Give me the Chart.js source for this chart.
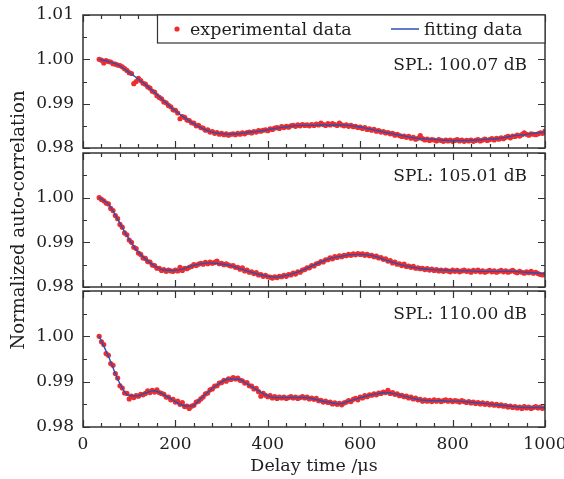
<!DOCTYPE html>
<html>
<head>
<meta charset="utf-8">
<script src="https://cdn.jsdelivr.net/npm/chart.js@4.4.1/dist/chart.umd.min.js"></script>
<style>
  body { margin: 0; background: #fff; }
  #wrap { position: relative; width: 564px; height: 479px; }
  #wrap canvas { position: absolute; left: 0; top: 0; }
</style>
</head>
<body>
<div id="wrap">
  <canvas id="panel1" width="564" height="479"></canvas>
  <canvas id="panel2" width="564" height="479"></canvas>
  <canvas id="panel3" width="564" height="479"></canvas>
</div>
<script>
// Delay time grid of the measured points (µs)
const delayStart = 35;
const delayStep = 5;

const xLabelTicks = [0, 200, 400, 600, 800, 1000];
const yLabelTicks = [0.98, 0.99, 1.00, 1.01];
const splLabels = ['SPL: 100.07 dB', 'SPL: 105.01 dB', 'SPL: 110.00 dB'];

// Measured auto-correlation, one value every 5 µs from 35 to 1000 µs
const expSpl100 = [
  1.0000, 0.9998, 0.9992, 0.9997, 0.9995, 0.9994, 0.9990, 0.9989, 0.9987, 0.9986,
  0.9983, 0.9979, 0.9975, 0.9970, 0.9968, 0.9945, 0.9950, 0.9957, 0.9952, 0.9946,
  0.9944, 0.9938, 0.9935, 0.9928, 0.9926, 0.9918, 0.9914, 0.9911, 0.9904, 0.9902,
  0.9896, 0.9893, 0.9886, 0.9885, 0.9879, 0.9866, 0.9871, 0.9869, 0.9863, 0.9862,
  0.9857, 0.9856, 0.9850, 0.9851, 0.9846, 0.9845, 0.9840, 0.9841, 0.9836, 0.9837,
  0.9833, 0.9835, 0.9831, 0.9833, 0.9830, 0.9832, 0.9829, 0.9831, 0.9832, 0.9830,
  0.9833, 0.9831, 0.9834, 0.9832, 0.9835, 0.9836, 0.9834, 0.9837, 0.9836, 0.9839,
  0.9838, 0.9840, 0.9841, 0.9839, 0.9843, 0.9842, 0.9845, 0.9846, 0.9844, 0.9848,
  0.9846, 0.9849, 0.9847, 0.9850, 0.9851, 0.9849, 0.9852, 0.9850, 0.9853, 0.9851,
  0.9852, 0.9850, 0.9853, 0.9851, 0.9854, 0.9852, 0.9856, 0.9853, 0.9851, 0.9855,
  0.9852, 0.9855, 0.9853, 0.9851, 0.9856, 0.9852, 0.9850, 0.9852, 0.9849, 0.9851,
  0.9848, 0.9849, 0.9846, 0.9847, 0.9844, 0.9846, 0.9842, 0.9843, 0.9840, 0.9842,
  0.9838, 0.9839, 0.9836, 0.9837, 0.9834, 0.9835, 0.9832, 0.9833, 0.9829, 0.9831,
  0.9828, 0.9826, 0.9827, 0.9824, 0.9826, 0.9822, 0.9824, 0.9820, 0.9822, 0.9828,
  0.9821, 0.9818, 0.9820, 0.9817, 0.9819, 0.9818, 0.9816, 0.9819, 0.9817, 0.9815,
  0.9818, 0.9816, 0.9818, 0.9815, 0.9817, 0.9819, 0.9816, 0.9818, 0.9815, 0.9817,
  0.9816, 0.9818, 0.9815, 0.9817, 0.9819, 0.9816, 0.9818, 0.9820, 0.9817, 0.9819,
  0.9821, 0.9818, 0.9822, 0.9820, 0.9823, 0.9821, 0.9824, 0.9826, 0.9823, 0.9827,
  0.9826, 0.9829, 0.9827, 0.9830, 0.9834, 0.9831, 0.9829, 0.9832, 0.9831, 0.9830,
  0.9832, 0.9834, 0.9833, 0.9838
];
const expSpl105 = [
  1.0000, 0.9996, 0.9993, 0.9988, 0.9986, 0.9976, 0.9971, 0.9960, 0.9953, 0.9940,
  0.9934, 0.9921, 0.9917, 0.9905, 0.9900, 0.9889, 0.9886, 0.9876, 0.9873, 0.9865,
  0.9864, 0.9857, 0.9856, 0.9849, 0.9848, 0.9842, 0.9842, 0.9837, 0.9839, 0.9835,
  0.9838, 0.9836, 0.9835, 0.9838, 0.9836, 0.9844, 0.9837, 0.9842, 0.9841, 0.9844,
  0.9846, 0.9850, 0.9848, 0.9851, 0.9853, 0.9851, 0.9855, 0.9852, 0.9856, 0.9853,
  0.9855, 0.9858, 0.9852, 0.9853, 0.9850, 0.9852, 0.9849, 0.9847, 0.9848, 0.9844,
  0.9844, 0.9840, 0.9843, 0.9836, 0.9838, 0.9833, 0.9834, 0.9830, 0.9832, 0.9827,
  0.9828, 0.9824, 0.9826, 0.9823, 0.9822, 0.9820, 0.9823, 0.9821, 0.9824, 0.9823,
  0.9826, 0.9824, 0.9828, 0.9827, 0.9831, 0.9829, 0.9834, 0.9833, 0.9838, 0.9839,
  0.9843, 0.9843, 0.9848, 0.9847, 0.9852, 0.9853, 0.9857, 0.9856, 0.9861, 0.9861,
  0.9865, 0.9863, 0.9868, 0.9866, 0.9870, 0.9868, 0.9871, 0.9870, 0.9873, 0.9871,
  0.9874, 0.9872, 0.9875, 0.9873, 0.9874, 0.9871, 0.9873, 0.9870, 0.9871, 0.9868,
  0.9869, 0.9865, 0.9866, 0.9862, 0.9863, 0.9858, 0.9859, 0.9854, 0.9856, 0.9851,
  0.9852, 0.9848, 0.9851, 0.9846, 0.9847, 0.9844, 0.9846, 0.9842, 0.9843, 0.9841,
  0.9842, 0.9839, 0.9841, 0.9838, 0.9840, 0.9837, 0.9839, 0.9836, 0.9838, 0.9835,
  0.9838, 0.9836, 0.9834, 0.9838, 0.9835, 0.9837, 0.9834, 0.9836, 0.9838, 0.9835,
  0.9836, 0.9833, 0.9837, 0.9835, 0.9838, 0.9834, 0.9836, 0.9833, 0.9835, 0.9837,
  0.9834, 0.9836, 0.9833, 0.9835, 0.9837, 0.9834, 0.9836, 0.9833, 0.9835, 0.9837,
  0.9834, 0.9832, 0.9835, 0.9833, 0.9831, 0.9834, 0.9832, 0.9835, 0.9831, 0.9833,
  0.9830, 0.9828, 0.9827, 0.9829
];
const expSpl110 = [
  1.0000, 0.9988, 0.9982, 0.9962, 0.9958, 0.9940, 0.9936, 0.9918, 0.9908, 0.9891,
  0.9886, 0.9875, 0.9874, 0.9862, 0.9868, 0.9865, 0.9869, 0.9868, 0.9872, 0.9871,
  0.9874, 0.9880, 0.9876, 0.9881, 0.9877, 0.9882, 0.9876, 0.9874, 0.9872, 0.9866,
  0.9866, 0.9860, 0.9861, 0.9855, 0.9857, 0.9850, 0.9854, 0.9845, 0.9846, 0.9841,
  0.9846, 0.9848, 0.9855, 0.9857, 0.9862, 0.9866, 0.9873, 0.9875, 0.9882, 0.9884,
  0.9890, 0.9891, 0.9897, 0.9898, 0.9903, 0.9901, 0.9906, 0.9905, 0.9909, 0.9906,
  0.9908, 0.9903, 0.9902, 0.9897, 0.9898, 0.9891, 0.9890, 0.9884, 0.9885, 0.9878,
  0.9868, 0.9874, 0.9870, 0.9867, 0.9869, 0.9864, 0.9867, 0.9863, 0.9866, 0.9864,
  0.9866, 0.9863, 0.9865, 0.9867, 0.9864, 0.9866, 0.9863, 0.9865, 0.9867, 0.9864,
  0.9866, 0.9862, 0.9864, 0.9861, 0.9863, 0.9858, 0.9859, 0.9855, 0.9857, 0.9854,
  0.9855, 0.9851, 0.9853, 0.9850, 0.9852, 0.9849, 0.9853, 0.9855, 0.9858, 0.9856,
  0.9861, 0.9863, 0.9860, 0.9866, 0.9864, 0.9869, 0.9867, 0.9871, 0.9870, 0.9873,
  0.9871, 0.9875, 0.9874, 0.9877, 0.9876, 0.9881, 0.9874, 0.9876, 0.9872, 0.9873,
  0.9869, 0.9870, 0.9867, 0.9868, 0.9864, 0.9866, 0.9862, 0.9864, 0.9860, 0.9861,
  0.9857, 0.9860, 0.9857, 0.9859, 0.9856, 0.9860, 0.9857, 0.9859, 0.9856, 0.9858,
  0.9860, 0.9857, 0.9859, 0.9856, 0.9858, 0.9857, 0.9855, 0.9858, 0.9856, 0.9854,
  0.9856, 0.9853, 0.9855, 0.9852, 0.9854, 0.9851, 0.9853, 0.9850, 0.9852, 0.9849,
  0.9851, 0.9848, 0.9850, 0.9847, 0.9849, 0.9846, 0.9847, 0.9844, 0.9846, 0.9843,
  0.9845, 0.9842, 0.9844, 0.9841, 0.9845, 0.9842, 0.9844, 0.9841, 0.9843, 0.9845,
  0.9842, 0.9844, 0.9841, 0.9843
];

// Fitted curves
const fitTimes = [
  35, 55, 75, 95, 115, 135, 155, 175, 195, 215,
  235, 255, 275, 295, 315, 335, 355, 375, 395, 415,
  435, 455, 475, 495, 515, 535, 555, 575, 595, 615,
  635, 655, 675, 695, 715, 735, 755, 775, 795, 815,
  835, 855, 875, 895, 915, 935, 955, 975, 995, 1000
];
const fitSpl100 = [
  1.0000, 0.9995, 0.9988, 0.9974, 0.9959, 0.9943, 0.9925, 0.9906, 0.9888, 0.9872,
  0.9858, 0.9846, 0.9837, 0.9833, 0.9831, 0.9832, 0.9835, 0.9837, 0.9840, 0.9844,
  0.9847, 0.9850, 0.9851, 0.9851, 0.9852, 0.9852, 0.9852, 0.9851, 0.9848, 0.9844,
  0.9840, 0.9835, 0.9831, 0.9827, 0.9823, 0.9821, 0.9820, 0.9818, 0.9817, 0.9817,
  0.9817, 0.9818, 0.9820, 0.9821, 0.9824, 0.9828, 0.9830, 0.9833, 0.9836, 0.9837
];
const fitSpl105 = [
  1.0000, 0.9985, 0.9952, 0.9915, 0.9884, 0.9863, 0.9847, 0.9838, 0.9837, 0.9840,
  0.9847, 0.9852, 0.9854, 0.9852, 0.9849, 0.9843, 0.9836, 0.9830, 0.9825, 0.9822,
  0.9825, 0.9830, 0.9837, 0.9847, 0.9856, 0.9864, 0.9868, 0.9872, 0.9873, 0.9872,
  0.9868, 0.9860, 0.9854, 0.9848, 0.9844, 0.9841, 0.9839, 0.9838, 0.9837, 0.9836,
  0.9836, 0.9835, 0.9835, 0.9835, 0.9835, 0.9835, 0.9833, 0.9832, 0.9830, 0.9829
];
const fitSpl110 = [
  1.0000, 0.9956, 0.9906, 0.9872, 0.9868, 0.9875, 0.9880, 0.9871, 0.9859, 0.9848,
  0.9846, 0.9863, 0.9881, 0.9896, 0.9906, 0.9906, 0.9895, 0.9883, 0.9871, 0.9865,
  0.9865, 0.9865, 0.9865, 0.9863, 0.9858, 0.9854, 0.9851, 0.9857, 0.9863, 0.9869,
  0.9873, 0.9876, 0.9873, 0.9868, 0.9863, 0.9859, 0.9858, 0.9858, 0.9857, 0.9857,
  0.9855, 0.9853, 0.9851, 0.9849, 0.9847, 0.9845, 0.9843, 0.9843, 0.9843, 0.9843
];

const delayTimes = expSpl100.map((v, i) => delayStart + delayStep * i);

Chart.defaults.font.family = "'DejaVu Serif', serif";
Chart.defaults.font.size = 17;
Chart.defaults.color = '#1e1e1e';

const expColor = '#ef2d2d';
const fitColor = '#2b50b4';

// frame of each panel, with inward tick marks on all four sides
const frameTicks = {
  id: 'frameTicks',
  afterDatasetsDraw(chart) {
    const { ctx, chartArea: a, scales: { x, y } } = chart;
    ctx.save();
    ctx.strokeStyle = '#333';
    ctx.lineWidth = 1.2;
    ctx.beginPath();
    x.ticks.forEach(t => {
      const px = Math.round(x.getPixelForValue(t.value)) + 0.5;
      const len = xLabelTicks.includes(t.value) ? 7 : 4;
      ctx.moveTo(px, a.bottom); ctx.lineTo(px, a.bottom - len);
      ctx.moveTo(px, a.top); ctx.lineTo(px, a.top + len);
    });
    y.ticks.forEach(t => {
      const py = Math.round(y.getPixelForValue(t.value)) + 0.5;
      const len = yLabelTicks.some(v => Math.abs(v - t.value) < 1e-6) ? 7 : 4;
      ctx.moveTo(a.left, py); ctx.lineTo(a.left + len, py);
      ctx.moveTo(a.right, py); ctx.lineTo(a.right - len, py);
    });
    ctx.stroke();
    ctx.lineWidth = 1.5;
    ctx.strokeRect(a.left, a.top, a.width, a.height);
    ctx.restore();
  }
};

// SPL label and (top panel only) the boxed legend
const panelText = {
  id: 'panelText',
  afterDraw(chart, args, opts) {
    const { ctx, chartArea: a } = chart;
    ctx.save();
    ctx.font = "17px 'DejaVu Serif', serif";
    ctx.fillStyle = '#1e1e1e';
    ctx.textAlign = 'right';
    ctx.textBaseline = 'alphabetic';
    ctx.fillText(opts.spl, a.right - 18, a.top + opts.splOffset);

    if (opts.legend) {
      const [fitSet, expSet] = chart.data.datasets;
      const boxTop = a.top, boxBottom = a.top + 28, boxLeft = 157;
      ctx.fillStyle = '#fff';
      ctx.fillRect(boxLeft, boxTop, a.right - boxLeft, boxBottom - boxTop);
      ctx.strokeStyle = '#333';
      ctx.lineWidth = 1.2;
      ctx.strokeRect(boxLeft + 0.5, boxTop, a.right - boxLeft - 0.5, boxBottom - boxTop);
      const midY = boxTop + 14;
      ctx.fillStyle = expSet.backgroundColor;
      ctx.beginPath();
      ctx.arc(177, midY, 2.6, 0, Math.PI * 2);
      ctx.fill();
      ctx.strokeStyle = fitSet.borderColor;
      ctx.lineWidth = 1.5;
      ctx.beginPath();
      ctx.moveTo(391, midY); ctx.lineTo(419, midY);
      ctx.stroke();
      ctx.fillStyle = '#1e1e1e';
      ctx.textAlign = 'left';
      ctx.font = "17.5px 'DejaVu Serif', serif";
      ctx.fillText(expSet.label, 190, boxTop + 20);
      ctx.fillText(fitSet.label, 424, boxTop + 20);
    }
    ctx.restore();
  }
};

function makePanel(id, expValues, fitValues, spl, box) {
  const expPoints = delayTimes.map((t, i) => ({ x: t, y: expValues[i] }));
  const fitPoints = fitTimes.map((t, i) => ({ x: t, y: fitValues[i] }));
  new Chart(document.getElementById(id), {
    type: 'scatter',
    data: {
      datasets: [{
        label: 'fitting data',
        type: 'line',
        data: fitPoints,
        showLine: true,
        borderColor: fitColor,
        borderWidth: 1.4,
        pointRadius: 0,
        cubicInterpolationMode: 'monotone',
        order: 0
      }, {
        label: 'experimental data',
        data: expPoints,
        backgroundColor: expColor,
        borderWidth: 0,
        pointRadius: 2.6,
        order: 1
      }]
    },
    options: {
      responsive: false,
      animation: false,
      devicePixelRatio: 1,
      layout: { padding: { left: 0, right: 19, top: box.top, bottom: box.bottom } },
      plugins: {
        legend: { display: false },
        tooltip: { enabled: false },
        panelText: { spl: spl, splOffset: box.splOffset, legend: box.legend }
      },
      scales: {
        x: {
          type: 'linear',
          min: 0,
          max: 1000,
          display: box.xAxis,
          grid: { display: false, drawTicks: false },
          border: { display: false },
          ticks: {
            stepSize: 40,
            autoSkip: false,
            maxRotation: 0,
            padding: 7,
            callback: v => xLabelTicks.includes(v) ? String(v) : ''
          },
          title: { display: box.xAxis, text: 'Delay time /μs', padding: { top: 0, bottom: 2 }, font: { size: 17.5 } },
          afterFit: s => { s.height = box.xAxis ? 52 : 0; s.paddingLeft = 0; s.paddingRight = 0; }
        },
        y: {
          min: 0.98,
          max: 1.01,
          grid: { display: false, drawTicks: false },
          border: { display: false },
          ticks: {
            stepSize: 0.005,
            autoSkip: false,
            padding: 9,
            callback: v => {
              const lab = yLabelTicks.find(t => Math.abs(t - v) < 1e-6);
              if (lab === undefined) return '';
              if (!box.topLabel && lab === 1.01) return '';
              return lab.toFixed(2);
            }
          },
          title: { display: box.yTitle, text: 'Normalized auto-correlation', padding: { top: 9, bottom: 0 }, font: { size: 18 } },
          afterFit: s => { s.width = 83; s.paddingTop = 0; s.paddingBottom = 0; }
        }
      }
    },
    plugins: [frameTicks, panelText]
  });
}

makePanel('panel1', expSpl100, fitSpl100, splLabels[0],
  { top: 15, bottom: 331, xAxis: false, yTitle: false, topLabel: true, legend: true, splOffset: 55 });
makePanel('panel2', expSpl105, fitSpl105, splLabels[1],
  { top: 153, bottom: 192, xAxis: false, yTitle: true, topLabel: false, legend: false, splOffset: 28 });
makePanel('panel3', expSpl110, fitSpl110, splLabels[2],
  { top: 291, bottom: 0, xAxis: true, yTitle: false, topLabel: false, legend: false, splOffset: 28 });
</script>
</body>
</html>
